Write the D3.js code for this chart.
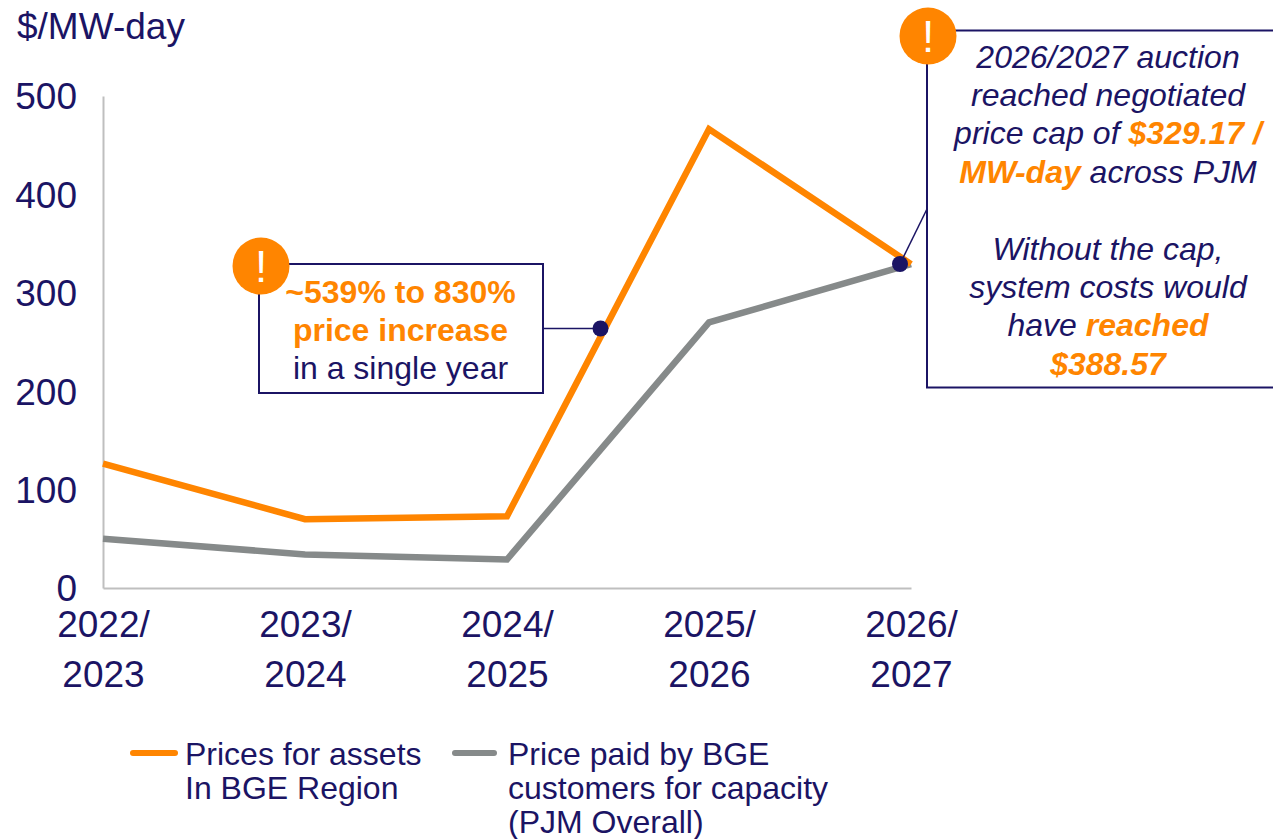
<!DOCTYPE html>
<html>
<head>
<meta charset="utf-8">
<script src="https://cdn.jsdelivr.net/npm/d3@7"></script>
<style>
    html, body { margin: 0; padding: 0; background: #fff; overflow: hidden; }
    svg { display: block; font-family: "Liberation Sans", Arial, sans-serif; }
</style>
</head>
<body>
<div id="chart"></div>
<script>
const seasons = ["2022/2023", "2023/2024", "2024/2025", "2025/2026", "2026/2027"];
const bgePrices = [126.5, 69.95, 73, 466.35, 329.17];
const pjmPrices = [50, 34.13, 28.92, 269.92, 329.17];
const yTicks = [0, 100, 200, 300, 400, 500];

const width = 1273,
    height = 839;
const navy = "#1b1464",
    orange = "#ff8500",
    grey = "#868a8a";

const svg = d3
    .select("#chart")
    .append("svg")
    .attr("width", width)
    .attr("height", height)
    .attr("viewBox", [0, 0, width, height]);

const x = d3.scalePoint().domain(seasons).range([103, 911]);
const y = d3.scaleLinear().domain([0, 500]).range([588, 96]);

// Axes
const yAxis = svg
    .append("g")
    .attr("transform", "translate(103,0)")
    .call(d3.axisLeft(y).tickValues(yTicks).tickSize(0).tickPadding(26));
yAxis.select(".domain").attr("stroke", "#bfbfbf").attr("stroke-width", 2);
yAxis
    .selectAll("text")
    .attr("fill", navy)
    .attr("font-size", 37)
    .attr("font-family", "Liberation Sans")
    .attr("dy", "0.35em");

const xAxis = svg
    .append("g")
    .attr("transform", "translate(0,588)")
    .call(d3.axisBottom(x).tickSize(0));
xAxis.select(".domain").attr("stroke", "#bfbfbf").attr("stroke-width", 2);
xAxis.selectAll("text").each(function (d) {
    const parts = d.split("/");
    const t = d3
        .select(this)
        .text(null)
        .attr("y", 0)
        .attr("dy", 0)
        .attr("fill", navy)
        .attr("font-size", 37)
        .attr("font-family", "Liberation Sans");
    t.append("tspan").attr("x", 0).attr("y", 49).text(parts[0] + "/");
    t.append("tspan").attr("x", 0).attr("y", 99).text(parts[1]);
});

// Lines
const line = d3
    .line()
    .x((d, i) => x(seasons[i]))
    .y((d) => y(d));

svg.append("path")
    .datum(pjmPrices)
    .attr("d", line)
    .attr("fill", "none")
    .attr("stroke", grey)
    .attr("stroke-width", 6.5);
svg.append("path")
    .datum(bgePrices)
    .attr("d", line)
    .attr("fill", "none")
    .attr("stroke", orange)
    .attr("stroke-width", 6.5);

svg.append("text")
    .attr("x", 17)
    .attr("y", 39)
    .attr("fill", navy)
    .attr("font-size", 37)
    .text("$/MW-day");

// Writes one callout line made of [text, highlighted] runs
function calloutLine(g, cx, baseline, runs, size, italic) {
    const t = g
        .append("text")
        .attr("x", cx)
        .attr("y", baseline)
        .attr("text-anchor", "middle")
        .attr("font-size", size)
        .attr("font-style", italic ? "italic" : "normal");
    runs.forEach((r) => {
        t.append("tspan")
            .attr("fill", r[1] ? orange : navy)
            .attr("font-weight", r[1] ? "bold" : "normal")
            .text(r[0]);
    });
}

function badge(g, cx, cy) {
    g.append("circle").attr("cx", cx).attr("cy", cy).attr("r", 28.5).attr("fill", orange);
    g.append("text")
        .attr("x", cx)
        .attr("y", cy + 16)
        .attr("text-anchor", "middle")
        .attr("fill", "#fff")
        .attr("font-size", 44)
        .text("!");
}

// Callout 1
const c1 = svg.append("g");
c1.append("line")
    .attr("x1", 543).attr("y1", 328.5)
    .attr("x2", 600).attr("y2", 328.5)
    .attr("stroke", navy).attr("stroke-width", 1.5);
c1.append("circle").attr("cx", 600.5).attr("cy", 328.5).attr("r", 8).attr("fill", navy);
c1.append("rect")
    .attr("x", 259).attr("y", 264)
    .attr("width", 284).attr("height", 129)
    .attr("fill", "#fff").attr("stroke", navy).attr("stroke-width", 2);
badge(c1, 261, 266);
calloutLine(c1, 400.5, 303, [["~539% to 830%", true]], 32, false);
calloutLine(c1, 400.5, 341, [["price increase", true]], 32, false);
calloutLine(c1, 400.5, 379, [["in a single year", false]], 32, false);

// Callout 2
const c2 = svg.append("g");
c2.append("rect")
    .attr("x", 927).attr("y", 30.5)
    .attr("width", 400).attr("height", 357)
    .attr("fill", "#fff").attr("stroke", navy).attr("stroke-width", 2);
c2.append("line")
    .attr("x1", 927).attr("y1", 209)
    .attr("x2", 900).attr("y2", 264)
    .attr("stroke", navy).attr("stroke-width", 1.5);
c2.append("circle").attr("cx", 900).attr("cy", 264).attr("r", 8).attr("fill", navy);
badge(c2, 928, 36);
const c2Lines = [
    [[["2026/2027 auction", false]], 68],
    [[["reached negotiated", false]], 106],
    [[["price cap of ", false], ["$329.17 /", true]], 144],
    [[["MW-day", true], [" across PJM", false]], 183],
    [[["Without the cap,", false]], 260],
    [[["system costs would", false]], 298],
    [[["have ", false], ["reached", true]], 336],
    [[["$388.57", true]], 375],
];
c2Lines.forEach((l) => calloutLine(c2, 1108, l[1], l[0], 32, true));

// Legend
const legend = svg.append("g").attr("fill", navy).attr("font-size", 32);
legend.append("line")
    .attr("x1", 133).attr("x2", 175).attr("y1", 753).attr("y2", 753)
    .attr("stroke", orange).attr("stroke-width", 6).attr("stroke-linecap", "round");
legend.append("line")
    .attr("x1", 455).attr("x2", 494).attr("y1", 753).attr("y2", 753)
    .attr("stroke", grey).attr("stroke-width", 6).attr("stroke-linecap", "round");
["Prices for assets", "In BGE Region"].forEach((s, i) =>
    legend.append("text").attr("x", 185).attr("y", 765 + i * 34).text(s)
);
["Price paid by BGE", "customers for capacity", "(PJM Overall)"].forEach((s, i) =>
    legend.append("text").attr("x", 508).attr("y", 765 + i * 34).text(s)
);
</script>
</body>
</html>
